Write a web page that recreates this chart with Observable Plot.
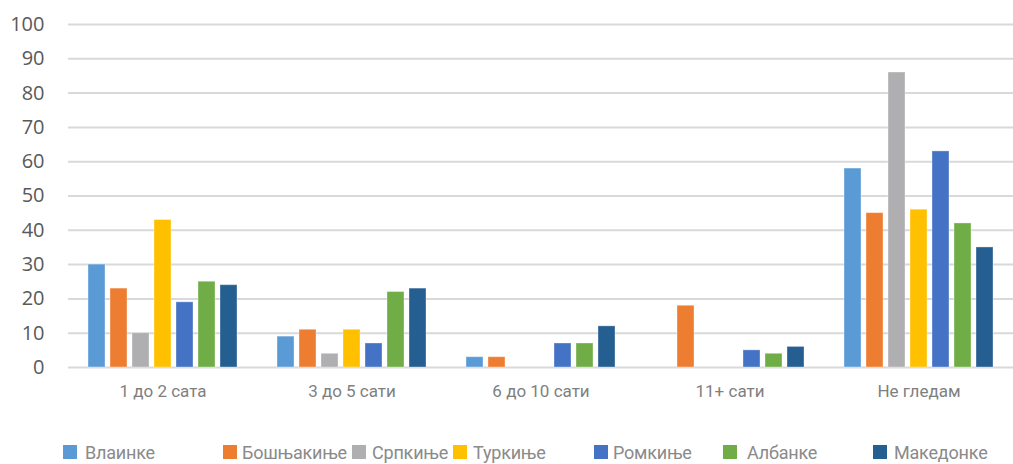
<!DOCTYPE html>
<html>
<head>
<meta charset="utf-8">
<script src="https://cdn.jsdelivr.net/npm/d3@7"></script>
<script src="https://cdn.jsdelivr.net/npm/@observablehq/plot@0.6"></script>
<style>
  body { margin: 0; background: #fff; }
  #wrap { position: relative; width: 1013px; height: 464px; overflow: hidden; }
  #legend { position: absolute; left: 0; top: 440px; width: 1013px; height: 24px; }
  .li { position: absolute; top: 0; display: flex; align-items: center; height: 24px;
        font-family: Roboto, sans-serif; font-size: 18px; letter-spacing: -0.2px; color: #8a8a8a; white-space: nowrap; }
  .sw { width: 14px; height: 14px; display: inline-block; }
</style>
</head>
<body>
<div id="wrap"><div id="chart"></div><div id="legend"></div></div>
<script>
const categories = ["1 до 2 сата", "3 до 5 сати", "6 до 10 сати", "11+ сати", "Не гледам"];
const seriesNames = ["Влаинке", "Бошњакиње", "Српкиње", "Туркиње", "Ромкиње", "Албанке", "Македонке"];
const seriesColors = ["#5b9bd5", "#ed7d31", "#afafb2", "#ffc000", "#4472c4", "#70ad47", "#255e91"];
const yTicks = [0, 10, 20, 30, 40, 50, 60, 70, 80, 90, 100];
// values per series, in category order
const vlainke     = [30, 9, 3, 0, 58];
const bosnjakinje = [23, 11, 3, 18, 45];
const srpkinje    = [10, 4, 0, 0, 86];
const turkinje    = [43, 11, 0, 0, 46];
const romkinje    = [19, 7, 7, 5, 63];
const albanke     = [25, 22, 7, 4, 42];
const makedonke   = [24, 23, 12, 6, 35];

const seriesValues = [vlainke, bosnjakinje, srpkinje, turkinje, romkinje, albanke, makedonke];
const data = [];
seriesNames.forEach((s, i) => categories.forEach((c, j) => data.push({cat: c, series: s, value: seriesValues[i][j]})));

const chart = Plot.plot({
  width: 1013,
  height: 420,
  marginLeft: 68,
  marginRight: 0,
  marginTop: 24,
  marginBottom: 53,
  style: {background: "#fff"},
  fx: {domain: categories, padding: 0, label: null, axis: null},
  x: {domain: seriesNames, paddingInner: 0.22, paddingOuter: 0.87, axis: null},
  y: {domain: [0, 100], label: null, axis: null},
  color: {domain: seriesNames, range: seriesColors},
  marks: [
    Plot.ruleY(yTicks, {stroke: "#d9d9d9", strokeWidth: 2}),
    Plot.axisY({ticks: yTicks, tickSize: 0, tickPadding: 24, anchor: "left", fontSize: 20, fontFamily: "'Open Sans', sans-serif", fill: "#595959", label: null}),
    Plot.axisFx({anchor: "bottom", tickSize: 0, tickPadding: 17, fontSize: 17, fontFamily: "Roboto, sans-serif", fill: "#7f7f7f", label: null}),
    Plot.barY(data.filter(d => d.value > 0), {fx: "cat", x: "series", y: "value", fill: "series", stroke: "#ffffff", strokeOpacity: 0.35, strokeWidth: 1})
  ]
});
document.getElementById("chart").appendChild(chart);

const legendX = [63, 223, 352, 453, 594, 723, 873];
const legendGap = [8, 5, 6, 6, 5, 10, 7];
const legend = document.getElementById("legend");
seriesNames.forEach((s, i) => {
  const item = document.createElement("div");
  item.className = "li";
  item.style.left = legendX[i] + "px";
  const sw = document.createElement("span");
  sw.className = "sw";
  sw.style.background = seriesColors[i];
  sw.style.marginRight = legendGap[i] + "px";
  const t = document.createElement("span");
  t.textContent = s;
  item.appendChild(sw);
  item.appendChild(t);
  legend.appendChild(item);
});
</script>
</body>
</html>
